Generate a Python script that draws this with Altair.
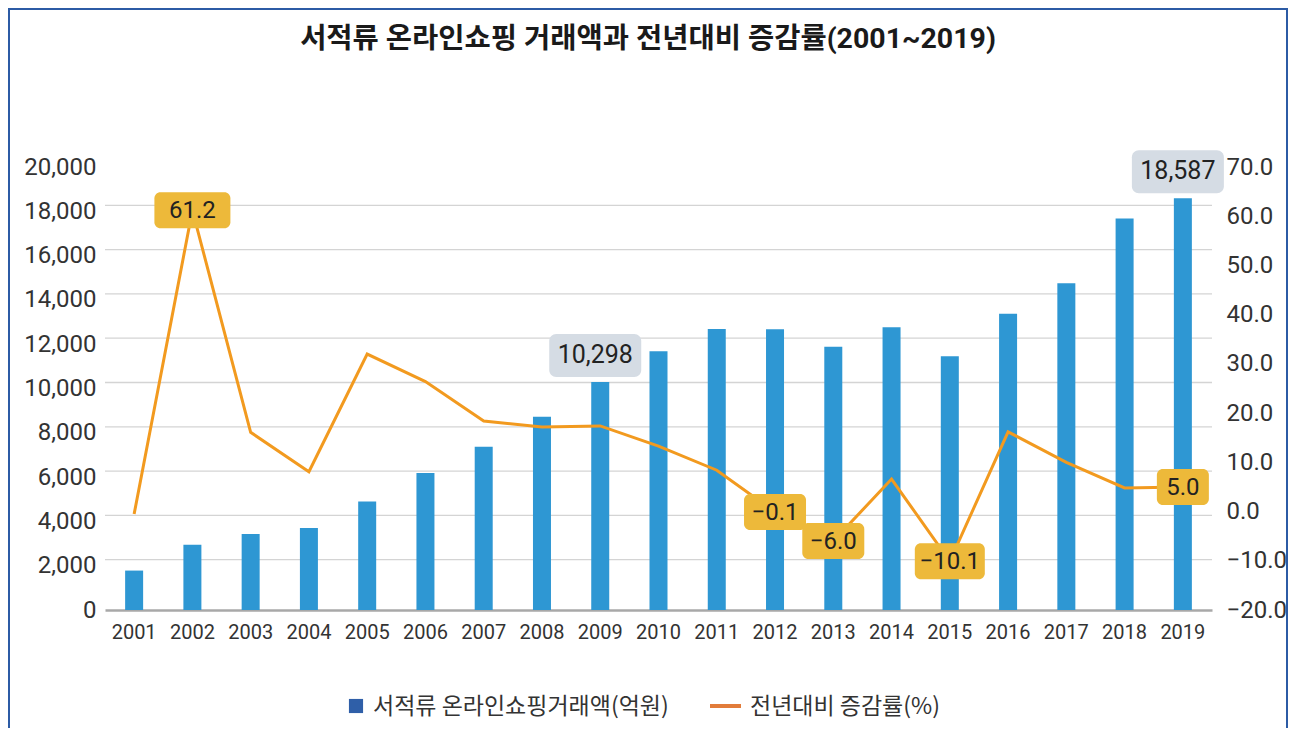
import altair as alt
import pandas as pd

# ---------------- data ----------------
years = [str(y) for y in range(2001, 2020)]
sales = [1780, 2950, 3430, 3700, 4900, 6180, 7370, 8730, 10298, 11680,
         12690, 12680, 11890, 12760, 11460, 13380, 14750, 17680, 18587]
rates = [-0.5, 61.2, 16.1, 8.1, 32.0, 26.4, 18.4, 17.2, 17.4, 13.3,
         8.4, -0.1, -6.0, 6.6, -10.1, 16.2, 10.0, 4.8, 5.0]

bar_label_years = ["2009", "2019"]
rate_label_years = ["2002", "2012", "2013", "2015", "2019"]

title_text = "서적류 온라인쇼핑 거래액과 전년대비 증감률(2001~2019)"
legend_bar = "서적류 온라인쇼핑거래액(억원)"
legend_line = "전년대비 증감률(%)"
grid_values = [2000, 4000, 6000, 8000, 10000, 12000, 14000, 16000, 18000]

# ---------------- styles ----------------
FONT_NUM = "Roboto, Noto Sans CJK KR"
FONT_KR = "Noto Sans CJK KR"
BAR_C = "#2E97D3"
LINE_C = "#F29A1F"
GOLD = "#EDB93A"
GRAY_BOX = "#D5DCE4"
W, H = 1107, 443
RATE_BOX_W = [76, 62, 62, 70, 52]   # callout box widths (px), per rate label

df = pd.DataFrame({"year": years, "sales": sales, "rate": rates})
df["sales_lbl"] = [f"{v:,}" for v in sales]
df["rate_lbl"] = [f"{v:.1f}".replace("-", "\u2212") for v in rates]

xenc = alt.X("year:N", sort=years,
             scale=alt.Scale(paddingInner=0, paddingOuter=0),
             axis=alt.Axis(title=None, labelAngle=0, labelFont=FONT_NUM, labelFontSize=20,
                           labelColor="#333333", ticks=False, labelPadding=12,
                           domainColor="#A8A8A8", domainWidth=2.5, grid=False))

yL = alt.Scale(domain=[0, 20000], nice=False)
yR = alt.Scale(domain=[-20, 70], nice=False)

base = alt.Chart(df)

grid = alt.Chart(pd.DataFrame({"g": grid_values})).mark_rule(
    color="#D4D4D4", strokeWidth=1.3, yOffset=-6
).encode(y=alt.Y("g:Q", scale=yL, axis=None))

bars = base.mark_bar(color=BAR_C, width=18).encode(
    x=xenc,
    y=alt.Y("sales:Q", scale=yL,
            axis=alt.Axis(title=None, values=list(range(0, 20001, 2000)), format=",.0f",
                          labelFont=FONT_NUM, labelFontSize=24, labelColor="#333333",
                          ticks=False, domain=False, grid=False, labelPadding=9)),
)

line = base.mark_line(color=LINE_C, strokeWidth=3).encode(
    x=alt.X("year:N", sort=years),
    y=alt.Y("rate:Q", scale=yR,
            axis=alt.Axis(title=None, orient="right", values=list(range(-20, 71, 10)),
                          format=".1f", labelFont=FONT_NUM, labelFontSize=24,
                          labelColor="#333333", ticks=False, domain=False, grid=False,
                          labelPadding=14)),
)

# bar value callouts (grey boxes)
bar_lab = base.transform_filter(
    alt.FieldOneOfPredicate(field="year", oneOf=bar_label_years))
bar_box = bar_lab.mark_bar(color=GRAY_BOX, width=92, cornerRadius=7,
                           yOffset=-48, y2Offset=-5, xOffset=-5).encode(
    x=alt.X("year:N", sort=years),
    y=alt.Y("sales:Q", scale=yL, axis=None),
    y2="sales:Q",
)
bar_txt = bar_lab.mark_text(font=FONT_NUM, fontSize=25, color="#222222",
                            baseline="middle", dy=-27, dx=-5).encode(
    x=alt.X("year:N", sort=years),
    y=alt.Y("sales:Q", scale=yL, axis=None),
    text="sales_lbl:N",
)

# rate callouts (gold boxes)
rate_layers = []
for yr, bw in zip(rate_label_years, RATE_BOX_W):
    sub = base.transform_filter(alt.datum.year == yr)
    rate_layers.append(sub.mark_bar(color=GOLD, width=bw, cornerRadius=6,
                                    yOffset=-18, y2Offset=18).encode(
        x=alt.X("year:N", sort=years),
        y=alt.Y("rate:Q", scale=yR, axis=None),
        y2="rate:Q",
    ))
rate_txt = base.transform_filter(
    alt.FieldOneOfPredicate(field="year", oneOf=rate_label_years)
).mark_text(font=FONT_NUM, fontSize=24, color="#222222",
            baseline="middle", dy=1).encode(
    x=alt.X("year:N", sort=years),
    y=alt.Y("rate:Q", scale=yR, axis=None),
    text="rate_lbl:N",
)

# title, legend, frame (decoration)
one = pd.DataFrame({"k": [0]})
title = alt.Chart(pd.DataFrame({"t": [title_text]})).mark_text(
    font=FONT_NUM, fontSize=28.5, fontWeight="bold", color="#1a1a1a",
    baseline="middle", align="center"
).encode(x=alt.value(543), y=alt.value(-128), text="t:N")

leg_sq = alt.Chart(one).mark_square(color="#2F5FA8", size=200, opacity=1).encode(
    x=alt.value(251), y=alt.value(539))
leg_t1 = alt.Chart(pd.DataFrame({"t": [legend_bar]})).mark_text(
    font=FONT_KR, fontSize=23, color="#333333", align="left", baseline="middle"
).encode(x=alt.value(268), y=alt.value(540), text="t:N")
leg_ln = alt.Chart(one).mark_rule(color="#E27C3A", strokeWidth=4).encode(
    x=alt.value(605), x2=alt.value(636), y=alt.value(539))
leg_t2 = alt.Chart(pd.DataFrame({"t": [legend_line]})).mark_text(
    font=FONT_KR, fontSize=23, color="#333333", align="left", baseline="middle"
).encode(x=alt.value(645), y=alt.value(540), text="t:N")

frame = alt.Chart(one).mark_rect(filled=False, stroke="#2C5BA5", strokeWidth=2).encode(
    x=alt.value(-96), x2=alt.value(1182), y=alt.value(-158), y2=alt.value(700))

chart = alt.layer(
    grid, bars, line, bar_box, bar_txt, *rate_layers, rate_txt,
    title, leg_sq, leg_t1, leg_ln, leg_t2, frame
).resolve_scale(y="independent").properties(
    width=W, height=H,
    autosize=alt.AutoSizeParams(type="none"),
    padding={"left": 97, "top": 159, "right": 78, "bottom": 118},
).configure_view(stroke=None)

chart.save("out.html", embed_options={"renderer": "svg", "actions": False})
